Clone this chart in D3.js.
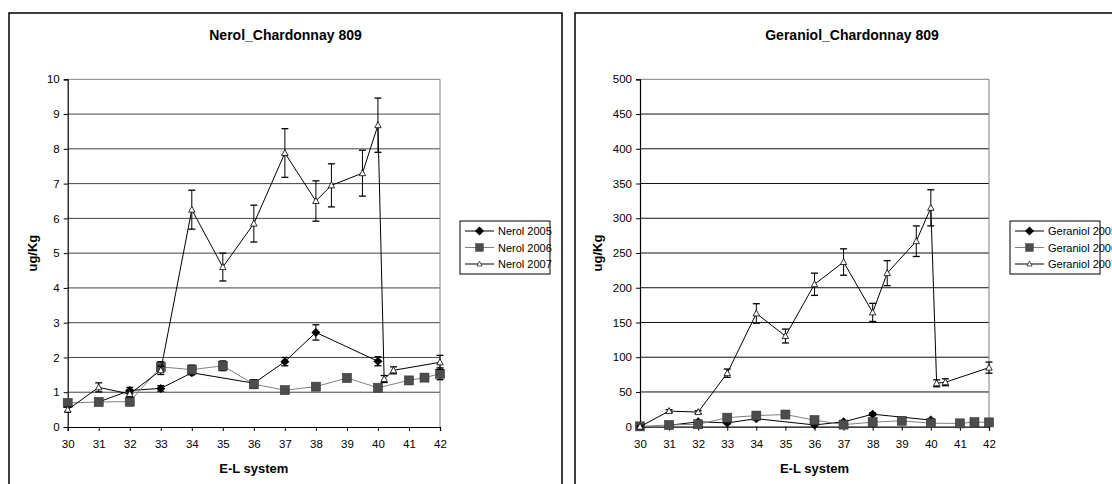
<!DOCTYPE html>
<html>
<head>
<meta charset="utf-8">
<script src="https://cdn.jsdelivr.net/npm/d3@7"></script>
<style>
  body { margin: 0; background: #fff; }
  svg { display: block; font-family: "Liberation Sans", Arial, sans-serif; }
</style>
</head>
<body>
<svg id="chart" width="1112" height="484"></svg>
<script>
const nerol05X = [31, 32, 33, 34, 36, 37, 38, 40];
const nerol05Y = [0.72, 1.05, 1.11, 1.56, 1.26, 1.88, 2.72, 1.89];
const nerol05E = [0.05, 0.09, 0.08, 0.06, 0.1, 0.12, 0.22, 0.13];

const nerol06X = [30, 31, 32, 33, 34, 35, 36, 37, 38, 39, 40, 41, 41.5, 42];
const nerol06Y = [0.69, 0.72, 0.73, 1.73, 1.65, 1.76, 1.23, 1.06, 1.16, 1.41, 1.13, 1.34, 1.42, 1.53];
const nerol06E = [0.06, 0.06, 0.12, 0.15, 0.13, 0.14, 0.12, 0.05, 0.08, 0.1, 0.06, 0.1, 0.1, 0.17];

const nerol07X = [30, 31, 32, 33, 34, 35, 36, 37, 38, 38.5, 39.5, 40, 40.2, 40.5, 42];
const nerol07Y = [0.5, 1.14, 0.95, 1.63, 6.25, 4.6, 5.85, 7.88, 6.5, 6.95, 7.3, 8.68, 1.38, 1.63, 1.86];
const nerol07E = [0.07, 0.13, 0.08, 0.12, 0.56, 0.4, 0.53, 0.7, 0.58, 0.62, 0.66, 0.78, 0.1, 0.1, 0.2];

const ger05X = [31, 32, 33, 34, 36, 37, 38, 40];
const ger05Y = [2, 7, 5.5, 11.5, 2.5, 7, 18, 9.5];
const ger05E = [1, 1.5, 1.5, 1.5, 1, 1.5, 2, 1.5];

const ger06X = [30, 31, 32, 33, 34, 35, 36, 37, 38, 39, 40, 41, 41.5, 42];
const ger06Y = [0.5, 2.5, 3.5, 13, 16, 17.5, 9.5, 3, 6.5, 8.5, 5, 4.8, 6.5, 6.2];
const ger06E = [0.5, 1, 1, 1.5, 1.5, 1.5, 1, 1, 1, 1, 1, 1, 1, 1];

const ger07X = [30, 31, 32, 33, 34, 35, 36, 37, 38, 38.5, 39.5, 40, 40.2, 40.5, 42];
const ger07Y = [0, 22.5, 21, 77, 163, 130.5, 205, 237, 164.5, 221, 267, 315, 62.5, 64, 85];
const ger07E = [1, 2, 2, 6, 14, 10, 16, 19, 13, 18, 22, 26, 5, 5, 8];

const xTicks = d3.range(30, 43);
const nerolTicks = d3.range(0, 11);
const gerTicks = d3.range(0, 501, 50);

const nerolNames = ["Nerol 2005", "Nerol 2006", "Nerol 2007"];
const gerNames = ["Geraniol 2005", "Geraniol 2006", "Geraniol 2007"];

function zip(xs, ys, es) {
  return xs.map((x, i) => ({ x: x, y: ys[i], e: es[i] }));
}

const svg = d3.select("#chart");

// marker styles for the three years
const styles = [
  { line: "#000", marker: "diamond" },
  { line: "#808080", marker: "square" },
  { line: "#000", marker: "triangle" }
];

function drawMarker(g, type) {
  if (type === "diamond") {
    g.append("path").attr("d", "M0,-4.5L4.5,0L0,4.5L-4.5,0Z").attr("fill", "#000");
  } else if (type === "square") {
    g.append("rect").attr("x", -4.5).attr("y", -4.5).attr("width", 9).attr("height", 9)
      .attr("fill", "#4d4d4d").attr("stroke", "#333").attr("stroke-width", 0.6);
  } else {
    g.append("path").attr("d", "M0,-3.5L3.2,2.5L-3.2,2.5Z")
      .attr("fill", "#fff").attr("stroke", "#000").attr("stroke-width", 0.8);
  }
}

function drawPanel(p) {
  const panel = svg.append("g");

  panel.append("rect")
    .attr("x", p.box[0]).attr("y", p.box[1])
    .attr("width", p.box[2]).attr("height", p.box[3])
    .attr("fill", "#fff").attr("stroke", "#000").attr("stroke-width", 1.5);

  const x = d3.scaleLinear().domain([30, 42]).range([p.left, p.right]);
  const y = d3.scaleLinear().domain([0, p.yMax]).range([p.bottom, p.top]);

  panel.append("text")
    .attr("x", (p.box[0] * 2 + p.box[2]) / 2).attr("y", 40)
    .attr("text-anchor", "middle").attr("font-size", 14).attr("font-weight", "bold")
    .text(p.title);

  // gridlines
  panel.append("g").selectAll("line")
    .data(p.yTicks.slice(1))
    .join("line")
    .attr("x1", p.left).attr("x2", p.right)
    .attr("y1", d => y(d)).attr("y2", d => y(d))
    .attr("stroke", d => d === p.yMax ? "#808080" : p.grid).attr("stroke-width", 1);

  // right border of plot area
  panel.append("line")
    .attr("x1", p.right).attr("x2", p.right).attr("y1", p.top).attr("y2", p.bottom)
    .attr("stroke", "#808080");

  const yAxis = panel.append("g")
    .attr("transform", `translate(${p.left},0)`)
    .call(d3.axisLeft(y).tickValues(p.yTicks).tickSize(4).tickPadding(4));
  const xAxis = panel.append("g")
    .attr("transform", `translate(0,${p.bottom})`)
    .call(d3.axisBottom(x).tickValues(xTicks).tickSize(4).tickPadding(9));
  [yAxis, xAxis].forEach(a => {
    a.select(".domain").attr("stroke", "#000").attr("stroke-width", 1.2);
    a.selectAll(".tick line").attr("stroke", "#000");
    a.selectAll("text").attr("font-size", 11.5).attr("fill", "#000")
      .attr("font-family", "Liberation Sans, Arial, sans-serif");
  });

  panel.append("text")
    .attr("transform", `translate(${p.yLabelX},${(p.top + p.bottom) / 2}) rotate(-90)`)
    .attr("text-anchor", "middle").attr("font-size", 13).attr("font-weight", "bold")
    .text("ug/Kg");

  panel.append("text")
    .attr("x", (p.left + p.right) / 2).attr("y", 473)
    .attr("text-anchor", "middle").attr("font-size", 13).attr("font-weight", "bold")
    .text("E-L system");

  const line = d3.line().x(d => x(d.x)).y(d => y(d.y));

  p.series.forEach((s, i) => {
    const st = styles[i];
    const g = panel.append("g");
    g.append("path").datum(s)
      .attr("d", line).attr("fill", "none")
      .attr("stroke", st.line).attr("stroke-width", 1);

    const eb = g.append("g").selectAll("g").data(s).join("g");
    eb.append("line")
      .attr("x1", d => x(d.x)).attr("x2", d => x(d.x))
      .attr("y1", d => y(d.y - d.e)).attr("y2", d => y(d.y + d.e))
      .attr("stroke", "#000").attr("stroke-width", 1);
    [-1, 1].forEach(sign => {
      eb.append("line")
        .attr("x1", d => x(d.x) - 3.5).attr("x2", d => x(d.x) + 3.5)
        .attr("y1", d => y(d.y + sign * d.e)).attr("y2", d => y(d.y + sign * d.e))
        .attr("stroke", "#000").attr("stroke-width", 1.3);
    });

    g.append("g").selectAll("g").data(s).join("g")
      .attr("transform", d => `translate(${x(d.x)},${y(d.y)})`)
      .each(function () { drawMarker(d3.select(this), st.marker); });
  });

  // legend
  const lg = panel.append("g").attr("transform", `translate(${p.legendX},221)`);
  lg.append("rect").attr("width", 90).attr("height", 53)
    .attr("fill", "#fff").attr("stroke", "#000").attr("stroke-width", 1);
  p.names.forEach((n, i) => {
    const row = lg.append("g").attr("transform", `translate(0,${10 + i * 16.5})`);
    row.append("line").attr("x1", 5).attr("x2", 34).attr("y1", 0).attr("y2", 0)
      .attr("stroke", styles[i].line).attr("stroke-width", 1);
    const m = row.append("g").attr("transform", "translate(19.5,0)");
    drawMarker(m, styles[i].marker);
    if (styles[i].marker === "square") m.attr("transform", "translate(19.5,0) scale(0.85)");
    if (styles[i].marker === "triangle") m.attr("transform", "translate(19.5,0) scale(0.8)");
    row.append("text").attr("x", 38).attr("y", 4).attr("font-size", 11).text(n);
  });
}

drawPanel({
  box: [9, 13, 553, 500],
  left: 67.7, right: 440, top: 79.3, bottom: 427,
  yMax: 10, yTicks: nerolTicks, yLabelX: 37, grid: "#444",
  title: "Nerol_Chardonnay 809",
  names: nerolNames,
  legendX: 460,
  series: [zip(nerol05X, nerol05Y, nerol05E), zip(nerol06X, nerol06Y, nerol06E), zip(nerol07X, nerol07Y, nerol07E)]
});

drawPanel({
  box: [575, 13, 554, 500],
  left: 640, right: 989, top: 79.3, bottom: 426.7,
  yMax: 500, yTicks: gerTicks, yLabelX: 602, grid: "#111",
  title: "Geraniol_Chardonnay 809",
  names: gerNames,
  legendX: 1010,
  series: [zip(ger05X, ger05Y, ger05E), zip(ger06X, ger06Y, ger06E), zip(ger07X, ger07Y, ger07E)]
});
</script>
</body>
</html>
